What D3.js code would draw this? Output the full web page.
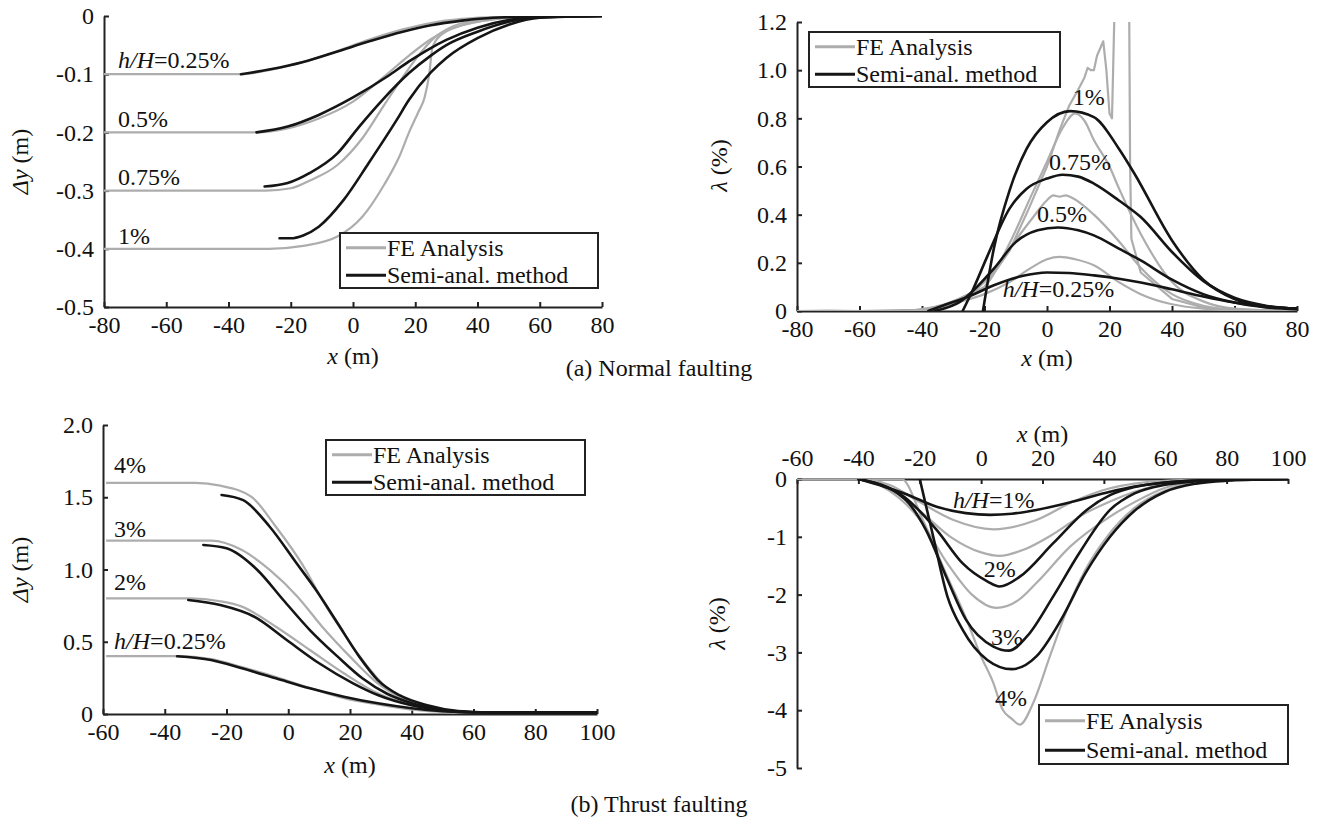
<!DOCTYPE html>
<html>
<head>
<meta charset="utf-8">
<script src="https://cdn.jsdelivr.net/npm/d3@7"></script>
<style>
  body { margin: 0; background: #fff; }
  svg text { font-family: 'Liberation Serif', 'Times New Roman', serif !important; font-size: 24px; fill: #111; }
</style>
</head>
<body>
<svg id="chart" width="1317" height="825"></svg>
<script>
// ---- data: [x (m), value] ----

// (a) normal faulting, settlement dy (m)
const normDyFE = {
  '0.25': [[-80,-0.1],[-36,-0.1],[-27,-0.093],[-16,-0.079],[-5,-0.06],[5,-0.041],[16,-0.023],[25,-0.012],[35,-0.005],[45,-0.002],[60,0],[80,0]],
  '0.5':  [[-80,-0.2],[-31,-0.2],[-21,-0.193],[-11,-0.176],[0,-0.147],[10,-0.104],[18,-0.068],[25,-0.04],[30,-0.025],[40,-0.01],[50,-0.003],[60,0],[80,0]],
  '0.75': [[-80,-0.3],[-28,-0.3],[-20,-0.296],[-14,-0.283],[-5,-0.256],[3,-0.21],[10,-0.153],[16,-0.105],[21,-0.068],[26,-0.038],[32,-0.018],[40,-0.007],[50,-0.002],[60,0],[80,0]],
  '1':    [[-80,-0.4],[-27,-0.4],[-16,-0.395],[-5,-0.379],[3,-0.345],[10,-0.29],[15,-0.24],[18,-0.2],[21,-0.165],[23,-0.14],[24.5,-0.1],[25.5,-0.055],[28,-0.034],[35,-0.016],[45,-0.006],[60,0],[80,0]]
};
const normDySA = {
  '0.25': [[-36,-0.1],[-27,-0.092],[-16,-0.079],[-5,-0.061],[5,-0.044],[16,-0.027],[25,-0.016],[35,-0.008],[45,-0.003],[60,-0.001],[80,0]],
  '0.5':  [[-31,-0.2],[-21,-0.19],[-11,-0.17],[0,-0.14],[11,-0.104],[18,-0.078],[25,-0.055],[30,-0.041],[40,-0.02],[50,-0.007],[60,-0.002],[80,0]],
  '0.75': [[-28.4,-0.293],[-21,-0.287],[-14,-0.27],[-5,-0.236],[2,-0.19],[9.5,-0.144],[18,-0.098],[25,-0.068],[30,-0.05],[40,-0.027],[50,-0.01],[60,-0.002],[80,0]],
  '1':    [[-23.6,-0.382],[-20,-0.382],[-16,-0.377],[-11,-0.362],[-3,-0.316],[5,-0.253],[14,-0.179],[18,-0.144],[25,-0.097],[30,-0.072],[40,-0.038],[50,-0.015],[60,-0.003],[80,0]]
};

// (a) normal faulting, angular distortion lambda (%)
const normLamFE = {
  '0.25': [[-80,0],[-45,0],[-40,0.003],[-35,0.01],[-30,0.03],[-20,0.07],[-12,0.12],[-5,0.18],[0,0.215],[4,0.225],[9,0.215],[15,0.19],[23,0.12],[30,0.07],[40,0.028],[50,0.01],[60,0.003],[80,0]],
  '0.5':  [[-80,0],[-45,0],[-40,0.003],[-35,0.015],[-30,0.04],[-20,0.12],[-12,0.26],[-5,0.38],[0,0.46],[2,0.48],[4,0.475],[6,0.48],[8,0.47],[15,0.4],[23,0.29],[30,0.18],[40,0.07],[50,0.022],[60,0.006],[80,0]],
  '0.75': [[-80,0],[-45,0],[-40,0.004],[-35,0.02],[-28,0.05],[-20,0.1],[-12,0.28],[-5,0.48],[0,0.62],[5,0.76],[9,0.82],[12,0.79],[15,0.71],[20,0.6],[23,0.51],[30,0.32],[40,0.12],[50,0.04],[60,0.01],[80,0]],
  '1':    [[-80,0],[-70,0.002],[-60,0],[-50,0.003],[-42,0.005],[-38,0.012],[-34,0.02],[-28,0.05],[-20,0.1],[-12,0.25],[-6,0.42],[0,0.6],[4,0.75],[7,0.85],[10,0.92],[12,0.97],[13,1.01],[14,1.0],[15,1.0],[16,1.06],[18,1.12],[19,1.0],[20,0.82],[20.8,0.8],[21.6,1.25],[26.3,1.25],[26.6,0.6],[27,0.3],[30,0.16],[40,0.05],[50,0.015],[60,0.004],[80,0]]
};
const normLamSA = {
  '0.25': [[-38,0],[-33,0.024],[-25,0.06],[-17,0.107],[-8,0.145],[0,0.16],[7,0.158],[15,0.148],[23,0.134],[30,0.118],[40,0.09],[50,0.06],[60,0.035],[70,0.018],[80,0.01]],
  '0.5':  [[-36,0],[-28,0.037],[-17,0.176],[-10,0.286],[-3,0.335],[3.5,0.347],[10,0.335],[15,0.314],[23,0.259],[30,0.21],[40,0.13],[50,0.07],[60,0.035],[70,0.015],[80,0.007]],
  '0.75': [[-27,0],[-24,0.08],[-19,0.23],[-12,0.425],[-6.5,0.508],[0,0.55],[5,0.566],[10,0.558],[15,0.529],[23,0.459],[30,0.39],[40,0.245],[50,0.125],[60,0.055],[70,0.022],[80,0.009]],
  '1':    [[-20.5,0],[-17,0.26],[-12,0.5],[-6.5,0.674],[0,0.784],[7.4,0.83],[15,0.805],[23,0.674],[28,0.57],[40,0.293],[50,0.13],[60,0.05],[70,0.02],[80,0.01]]
};

// (b) thrust faulting, uplift dy (m)
const thrDyFE = {
  '0.25': [[-59,0.4],[-36,0.4],[-25,0.38],[-15,0.325],[-4,0.255],[7,0.18],[18,0.11],[29,0.066],[40,0.03],[50,0.015],[60,0.01],[100,0.01]],
  '2':    [[-59,0.8],[-32,0.8],[-22,0.78],[-15,0.743],[-4,0.604],[7,0.443],[18,0.282],[29,0.143],[40,0.06],[50,0.025],[60,0.012],[100,0.01]],
  '3':    [[-59,1.2],[-25,1.2],[-15,1.135],[-6,0.997],[3,0.812],[11,0.604],[20,0.397],[29,0.212],[40,0.08],[50,0.03],[60,0.012],[100,0.01]],
  '4':    [[-59,1.6],[-30,1.6],[-22,1.58],[-12,1.504],[-4,1.296],[5,1.02],[11,0.79],[18,0.558],[24,0.374],[32,0.18],[40,0.08],[50,0.03],[60,0.012],[100,0.01]]
};
const thrDySA = {
  '0.25': [[-36,0.4],[-25,0.374],[-15,0.316],[-4,0.247],[7,0.178],[18,0.12],[29,0.074],[40,0.04],[50,0.02],[60,0.012],[100,0.01]],
  '2':    [[-32.4,0.789],[-22,0.754],[-11,0.673],[-0.5,0.512],[10,0.351],[21,0.212],[29,0.131],[40,0.06],[50,0.025],[60,0.012],[100,0.01]],
  '3':    [[-27.5,1.17],[-20,1.147],[-10,0.997],[-1.6,0.789],[7,0.581],[16,0.397],[24,0.247],[32,0.14],[40,0.075],[50,0.03],[60,0.012],[100,0.01]],
  '4':    [[-21.6,1.516],[-14.6,1.48],[-6,1.296],[2.7,1.043],[9,0.858],[16,0.628],[23,0.397],[29,0.235],[36,0.13],[45,0.06],[55,0.02],[65,0.01],[100,0.01]]
};

// (b) thrust faulting, angular distortion lambda (%)
const thrLamFE = {
  '1': [[-60,0],[-40,0],[-30,-0.1],[-20,-0.4],[-9,-0.71],[4,-0.87],[18,-0.71],[30,-0.39],[42,-0.16],[50,-0.08],[60,-0.03],[80,-0.005],[100,0]],
  '2': [[-60,0],[-40,0],[-30,-0.15],[-20,-0.55],[-10,-1.0],[0,-1.27],[6,-1.33],[14,-1.22],[23,-0.97],[34,-0.59],[42,-0.39],[50,-0.22],[60,-0.09],[70,-0.04],[80,-0.015],[100,0]],
  '3': [[-60,0],[-40,0],[-30,-0.2],[-20,-0.7],[-11,-1.46],[-3,-2.0],[5,-2.23],[12,-2.1],[18,-1.8],[29,-1.17],[42,-0.65],[50,-0.4],[60,-0.15],[70,-0.05],[80,-0.02],[100,0]],
  '4': [[-60,0],[-26,0],[-19,-0.71],[-11,-1.69],[-5,-2.4],[0,-3.07],[4,-3.53],[7,-3.99],[10,-4.15],[12.6,-4.25],[17,-3.87],[22.4,-3.07],[28,-2.26],[34,-1.57],[41,-1.0],[50,-0.5],[60,-0.2],[70,-0.06],[80,-0.02],[100,0]]
};
const thrLamSA = {
  '1': [[-40,0],[-25,-0.25],[-14.5,-0.48],[-5,-0.59],[3,-0.62],[10,-0.6],[18,-0.535],[30,-0.39],[42,-0.22],[50,-0.13],[60,-0.06],[70,-0.025],[80,-0.01],[100,0]],
  '2': [[-40,0],[-25,-0.31],[-14.5,-0.88],[-6,-1.46],[2,-1.77],[6,-1.86],[12.6,-1.69],[23.5,-1.11],[34.4,-0.535],[42,-0.28],[50,-0.14],[60,-0.06],[70,-0.025],[80,-0.01],[100,0]],
  '3': [[-40,0],[-25,-0.34],[-18,-0.88],[-11,-1.74],[-5,-2.43],[4,-2.9],[9,-2.97],[15,-2.72],[23.5,-2.03],[32,-1.28],[42,-0.535],[50,-0.25],[60,-0.1],[70,-0.04],[80,-0.015],[100,0]],
  '4': [[-20,0],[-15.6,-1.0],[-11,-2.03],[-6,-2.61],[2,-3.13],[10,-3.29],[18,-3.07],[26,-2.44],[34,-1.63],[42,-1.0],[50,-0.55],[60,-0.22],[70,-0.08],[80,-0.03],[100,0]]
};

// tick values
const xTicksNormal = [-80, -60, -40, -20, 0, 20, 40, 60, 80];
const xTicksThrust = [-60, -40, -20, 0, 20, 40, 60, 80, 100];
const yTicksNormDy = [0, -0.1, -0.2, -0.3, -0.4, -0.5];
const yTicksNormLam = [0, 0.2, 0.4, 0.6, 0.8, 1.0, 1.2];
const yTicksThrDy = [0, 0.5, 1.0, 1.5, 2.0];
const yTicksThrLam = [0, -1, -2, -3, -4, -5];

// curve labels (h/H), placed in data units
const labelsNormDy = [['0.25', -75.5, -0.090, true], ['0.5%', -75.5, -0.190], ['0.75%', -75.5, -0.290], ['1%', -75.5, -0.392]];
const labelsNormLam = [['1%', 8.2, 0.855], ['0.75%', 0.6, 0.585], ['0.5%', -3.2, 0.371], ['0.25', -14.2, 0.059, true]];
const labelsThrDy = [['4%', -56.4, 1.666], ['3%', -56.4, 1.227], ['2%', -56.4, 0.858], ['0.25', -56.4, 0.448, true]];
const labelsThrLam = [['1', -9.2, -0.506, true], ['2%', 0.85, -1.687], ['3%', 3.2, -2.867], ['4%', 4.5, -3.933]];

const FONT = "'Liberation Serif', 'Times New Roman', serif";
const GRAY = '#adadad';
const BLACK = '#151515';
const svg = d3.select('#chart');

function fmt1(d) { return d === 0 ? '0' : d.toFixed(1); }

function panel(p) {
  const x = d3.scaleLinear().domain(p.xDomain).range([p.left, p.right]);
  const y = d3.scaleLinear().domain(p.yDomain).range([p.bottom, p.top]);
  const g = svg.append('g');

  svg.append('clipPath').attr('id', 'clip-' + p.id)
    .append('rect')
    .attr('x', p.left).attr('y', p.top)
    .attr('width', p.right - p.left).attr('height', p.bottom - p.top);

  // axes
  const xAxis = (p.xTop ? d3.axisTop(x) : d3.axisBottom(x))
    .tickValues(p.xTicks).tickFormat(d => String(d))
    .tickSizeInner(-5).tickSizeOuter(0).tickPadding(p.xTop ? 13 : 9);
  const xg = g.append('g')
    .attr('transform', `translate(0,${p.xAxisY})`)
    .call(xAxis);

  const yAxis = d3.axisLeft(y)
    .tickValues(p.yTicks).tickFormat(p.yFormat)
    .tickSizeInner(-5).tickSizeOuter(0).tickPadding(10);
  const yg = g.append('g')
    .attr('transform', `translate(${p.left},0)`)
    .call(yAxis);

  [xg, yg].forEach(a => {
    a.attr('font-size', 24).attr('font-family', FONT);
    a.select('.domain').attr('stroke', '#222').attr('stroke-width', 2);
    a.selectAll('.tick line').attr('stroke', '#222').attr('stroke-width', 2);
    a.selectAll('.tick text').attr('fill', '#111');
  });

  // curves
  const plot = g.append('g').attr('clip-path', `url(#clip-${p.id})`);
  const line = d3.line().x(d => x(d[0])).y(d => y(d[1])).curve(d3.curveMonotoneX);
  const rough = d3.line().x(d => x(d[0])).y(d => y(d[1]));

  Object.keys(p.fe).forEach(k => {
    plot.append('path')
      .attr('d', (p.roughKey === k ? rough : line)(p.fe[k]))
      .attr('fill', 'none').attr('stroke', GRAY).attr('stroke-width', 2.2)
      .attr('stroke-linejoin', 'round');
  });
  Object.keys(p.sa).forEach(k => {
    plot.append('path')
      .attr('d', line(p.sa[k]))
      .attr('fill', 'none').attr('stroke', BLACK).attr('stroke-width', 2.6)
      .attr('stroke-linecap', 'round');
  });

  // curve labels
  p.labels.forEach(l => {
    const t = g.append('text').attr('x', x(l[1])).attr('y', y(l[2]));
    if (l[3]) {
      t.append('tspan').attr('font-style', 'italic').text('h/H');
      t.append('tspan').text('=' + l[0] + '%');
    } else {
      t.text(l[0]);
    }
  });

  // axis titles
  const xt = g.append('text').attr('text-anchor', 'middle')
    .attr('x', (p.left + p.right) / 2).attr('y', p.xTitleY);
  xt.append('tspan').attr('font-style', 'italic').text('x');
  xt.append('tspan').text(' (m)');

  const yt = g.append('text').attr('text-anchor', 'middle')
    .attr('transform', `translate(${p.yTitleX},${(p.top + p.bottom) / 2 + p.yTitleDy}) rotate(-90)`);
  yt.append('tspan').attr('font-style', 'italic').text(p.yTitle[0]);
  yt.append('tspan').text(p.yTitle[1]);

  // legend
  const lg = g.append('g').attr('transform', `translate(${p.legend[0]},${p.legend[1]})`);
  lg.append('rect').attr('width', p.legend[2]).attr('height', p.legend[3])
    .attr('fill', '#fff').attr('stroke', '#222').attr('stroke-width', 2);
  const rowH = p.legend[3] / 2;
  [['FE Analysis', GRAY, 2.2], ['Semi-anal. method', BLACK, 2.6]].forEach((r, i) => {
    const cy = rowH * (i + 0.5) + 1;
    lg.append('line').attr('x1', 6).attr('x2', 46).attr('y1', cy).attr('y2', cy)
      .attr('stroke', r[1]).attr('stroke-width', r[2] + 0.6);
    lg.append('text').attr('x', 47).attr('y', cy + 8).text(r[0]);
  });
}

panel({
  id: 'a1', xDomain: [-80, 80], yDomain: [-0.5, 0],
  left: 104, right: 602, top: 16, bottom: 307, xAxisY: 307,
  xTicks: xTicksNormal, yTicks: yTicksNormDy, yFormat: d => String(d),
  fe: normDyFE, sa: normDySA, labels: labelsNormDy,
  xTitleY: 364, yTitleX: 28, yTitleDy: 0, yTitle: ['\u0394y', ' (m)'],
  legend: [340, 233, 258, 55]
});

panel({
  id: 'a2', xDomain: [-80, 80], yDomain: [0, 1.2],
  left: 797, right: 1297, top: 22, bottom: 311, xAxisY: 311,
  xTicks: xTicksNormal, yTicks: yTicksNormLam, yFormat: fmt1,
  fe: normLamFE, sa: normLamSA, labels: labelsNormLam, roughKey: '1',
  xTitleY: 366, yTitleX: 727, yTitleDy: -1, yTitle: ['\u03bb', ' (%)'],
  legend: [809, 32, 251, 55]
});

panel({
  id: 'b1', xDomain: [-60, 100], yDomain: [0, 2],
  left: 103, right: 597, top: 425, bottom: 714, xAxisY: 714,
  xTicks: xTicksThrust, yTicks: yTicksThrDy, yFormat: fmt1,
  fe: thrDyFE, sa: thrDySA, labels: labelsThrDy,
  xTitleY: 773, yTitleX: 28, yTitleDy: 0, yTitle: ['\u0394y', ' (m)'],
  legend: [326, 440, 259, 55]
});

panel({
  id: 'b2', xDomain: [-60, 100], yDomain: [-5, 0],
  left: 797, right: 1288, top: 479, bottom: 768, xAxisY: 479, xTop: true,
  xTicks: xTicksThrust, yTicks: yTicksThrLam, yFormat: d => String(d),
  fe: thrLamFE, sa: thrLamSA, labels: labelsThrLam,
  xTitleY: 442, yTitleX: 725, yTitleDy: 0, yTitle: ['\u03bb', ' (%)'],
  legend: [1039, 705, 249, 59]
});

// captions
svg.append('text').attr('text-anchor', 'middle').attr('x', 659).attr('y', 376).text('(a) Normal faulting');
svg.append('text').attr('text-anchor', 'middle').attr('x', 659).attr('y', 812).text('(b) Thrust faulting');
</script>
</body>
</html>
